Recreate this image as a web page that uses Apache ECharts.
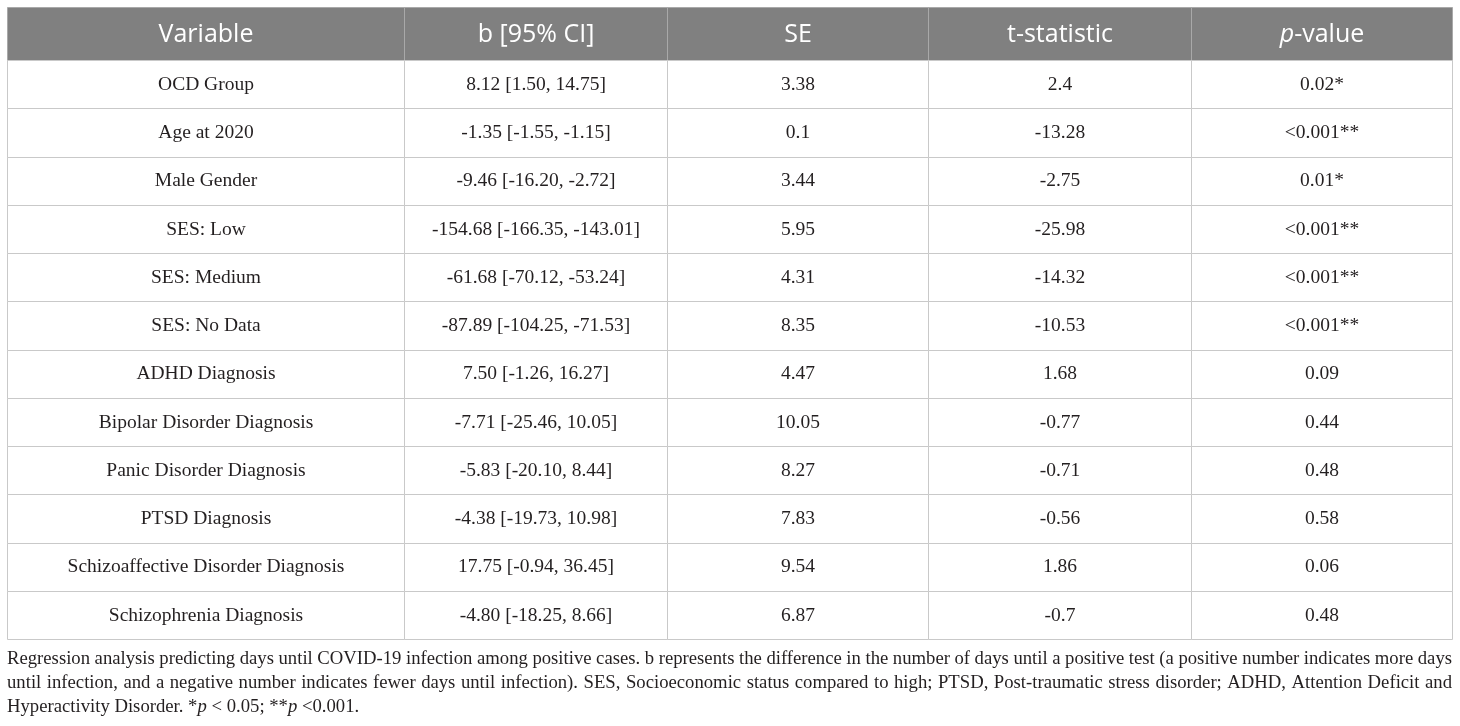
<!DOCTYPE html>
<html><head><meta charset="utf-8">
<script src="https://cdn.jsdelivr.net/npm/echarts@6/dist/echarts.min.js"></script>
<style>html,body{margin:0;padding:0;background:#fff}#c{width:1460px;height:726px}</style>
</head><body><div id="c"></div>
<script>
const headers = ['Variable', 'b [95% CI]', 'SE', 't-statistic', '{i|p}-value'];
const variables = ['OCD Group','Age at 2020','Male Gender','SES: Low','SES: Medium','SES: No Data','ADHD Diagnosis','Bipolar Disorder Diagnosis','Panic Disorder Diagnosis','PTSD Diagnosis','Schizoaffective Disorder Diagnosis','Schizophrenia Diagnosis'];
const bCI = ['8.12 [1.50, 14.75]','-1.35 [-1.55, -1.15]','-9.46 [-16.20, -2.72]','-154.68 [-166.35, -143.01]','-61.68 [-70.12, -53.24]','-87.89 [-104.25, -71.53]','7.50 [-1.26, 16.27]','-7.71 [-25.46, 10.05]','-5.83 [-20.10, 8.44]','-4.38 [-19.73, 10.98]','17.75 [-0.94, 36.45]','-4.80 [-18.25, 8.66]'];
const se = ['3.38','0.1','3.44','5.95','4.31','8.35','4.47','10.05','8.27','7.83','9.54','6.87'];
const tStat = ['2.4','-13.28','-2.75','-25.98','-14.32','-10.53','1.68','-0.77','-0.71','-0.56','1.86','-0.7'];
const pValues = ['0.02*','<0.001**','0.01*','<0.001**','<0.001**','<0.001**','0.09','0.44','0.48','0.58','0.06','0.48'];
const captionLines = [
  'Regression analysis predicting days until COVID-19 infection among positive cases. b represents the difference in the number of days until a positive test (a positive number indicates more days',
  'until infection, and a negative number indicates fewer days until infection). SES, Socioeconomic status compared to high; PTSD, Post-traumatic stress disorder; ADHD, Attention Deficit and',
  'Hyperactivity Disorder. *{i|p} < 0.05; **{i|p} <0.001.'
];

// layout
const colEdges = [0, 397, 660, 921, 1184, 1445];
const tableLeft = 7, tableWidth = 1445;
const captionTop = 650, captionLineH = 24, captionSize = 18.7;
const columns = [variables, bCI, se, tStat, pValues];
const rowIdx = variables.map((_, i) => i);

const bodyData = [];
columns.forEach((col, c) => col.forEach((v, r) => bodyData.push([c, r, v])));
const headData = headers.map((h, c) => [c, 0, h]);

const serifFont = '"Liberation Serif", "DejaVu Serif", serif';
const sansFont = '"Open Sans", "Noto Sans", sans-serif';

function makeRender(isHead) {
  return function (params, api) {
    const c = api.value(0), r = api.value(1);
    const text = isHead ? headData[params.dataIndex][2] : bodyData[params.dataIndex][2];
    const p0 = api.coord([colEdges[c], r]);
    const p1 = api.coord([colEdges[c + 1], r]);
    const h = api.size([0, 1])[1];
    const x0 = Math.round(p0[0]) + 0.5, x1 = Math.round(p1[0]) + 0.5;
    const y0 = Math.round(p0[1] - h / 2) + 0.5, y1 = Math.round(p0[1] + h / 2) + 0.5;
    return {
      type: 'group',
      children: [
        { type: 'rect', shape: { x: x0, y: y0, width: x1 - x0, height: y1 - y0 },
          style: { fill: isHead ? '#808080' : '#ffffff', stroke: isHead ? '#a9a9a9' : '#c9c9c9', lineWidth: 1 } },
        { type: 'text', x: (x0 + x1) / 2, y: p0[1] + (isHead ? 1 : 0.5),
          style: { text: text, align: 'center', verticalAlign: 'middle',
            fill: isHead ? '#ffffff' : '#231f20',
            font: isHead ? ('25px ' + sansFont) : ('19.5px ' + serifFont),
            rich: { i: { fontStyle: 'italic', fontSize: 25, fontFamily: sansFont, fill: '#ffffff' } } } }
      ]
    };
  };
}

// justify caption lines 1 and 2 using measured word widths
const ctx = document.createElement('canvas').getContext('2d');
ctx.font = captionSize + 'px ' + serifFont;
function justify(line) {
  const words = line.split(' ');
  const total = words.reduce((s, w) => s + ctx.measureText(w).width, 0);
  const sw = Math.max(2, (tableWidth - total) / (words.length - 1));
  return { text: words.join('{s| }'), sw: sw };
}
const captionGraphics = captionLines.map((line, i) => {
  const j = i < 2 ? justify(line) : { text: line, sw: ctx.measureText(' ').width };
  return {
    type: 'text', left: tableLeft, top: captionTop + i * captionLineH, silent: true,
    style: {
      text: j.text, fill: '#231f20', font: captionSize + 'px ' + serifFont,
      rich: {
        s: { width: j.sw, fontSize: captionSize, fontFamily: serifFont },
        i: { fontStyle: 'italic', fontSize: captionSize, fontFamily: serifFont, fill: '#231f20' }
      }
    }
  };
});

const chart = echarts.init(document.getElementById('c'), null, { renderer: 'canvas' });
chart.setOption({
  animation: false,
  graphic: captionGraphics,
  grid: [
    { left: 7, right: 8, top: 7, height: 53 },
    { left: 7, right: 8, top: 60, height: 579 }
  ],
  xAxis: [
    { gridIndex: 0, type: 'value', min: 0, max: 1445, show: false },
    { gridIndex: 1, type: 'value', min: 0, max: 1445, show: false }
  ],
  yAxis: [
    { gridIndex: 0, type: 'category', data: ['header'], inverse: true, show: false },
    { gridIndex: 1, type: 'category', data: rowIdx, inverse: true, show: false }
  ],
  series: [
    { type: 'custom', xAxisIndex: 0, yAxisIndex: 0, renderItem: makeRender(true), data: headData.map(d => [d[0], d[1]]), silent: true },
    { type: 'custom', xAxisIndex: 1, yAxisIndex: 1, renderItem: makeRender(false), data: bodyData.map(d => [d[0], d[1]]), silent: true }
  ]
});
</script></body></html>
